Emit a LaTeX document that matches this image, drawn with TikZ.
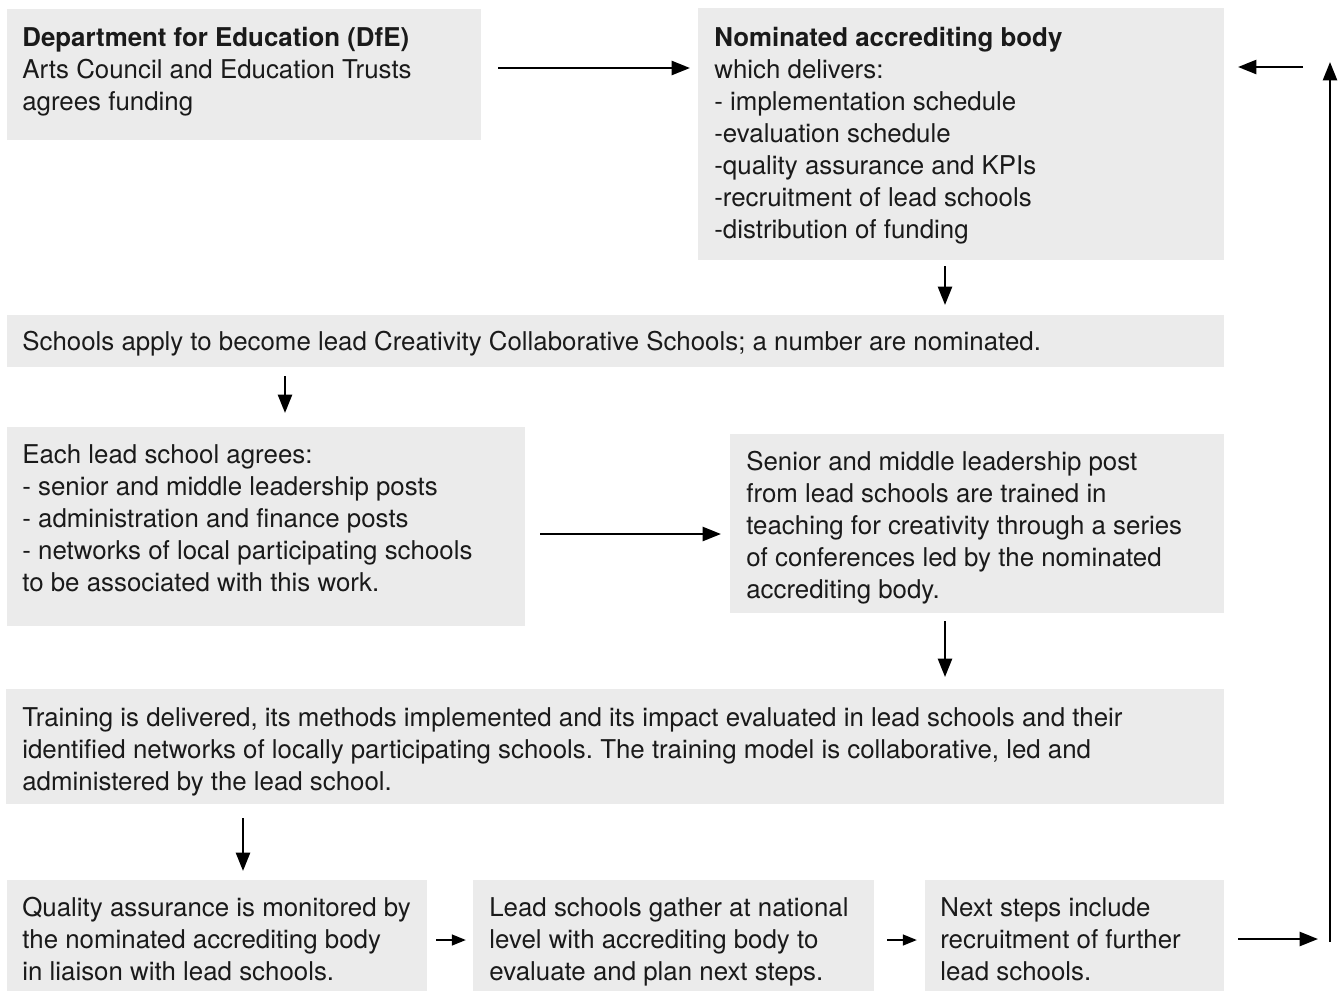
\documentclass[tikz,border=0pt]{standalone}
\usepackage{fontspec}
\setmainfont{TeX Gyre Heros}
\usetikzlibrary{fit,arrows.meta}
\definecolor{boxgray}{HTML}{EBEBEB}
\definecolor{ink}{HTML}{1A1A1A}
\frenchspacing
\begin{document}
\begin{tikzpicture}[x=0.02cm,y=-0.02cm,
  box/.style={fill=boxgray,draw=none,inner sep=0pt},
  txt/.style={anchor=north west,inner sep=0pt,align=left,text=ink,
    font=\fontsize{14.72pt}{18.22pt}\selectfont},
  arr/.style={line width=1.45pt,-{Triangle[length=10.5pt,width=8pt]}},
  sarr/.style={line width=1.4pt,-{Triangle[length=8pt,width=6pt]}}]
\useasboundingbox[fill=white] (0,0) rectangle (1341,991);
\newcommand{\fl}{\rule{0pt}{12.5pt}}
% boxes
\node[box,fit={(7,9) (481,140)}] (dfe) {};
\node[box,fit={(698,8) (1224,260)}] (nab) {};
\node[box,fit={(7,315) (1224,367)}] (apply) {};
\node[box,fit={(7,427) (525,626)}] (each) {};
\node[box,fit={(730,434) (1224,613)}] (senior) {};
\node[box,fit={(6,689) (1224,804)}] (train) {};
\node[box,fit={(7,880) (427,991)}] (qa) {};
\node[box,fit={(473,880) (874,991)}] (gather) {};
\node[box,fit={(925,880) (1224,991)}] (next) {};
% texts
\node[txt] (dfet) at (22,24) {\fl\textbf{Department for Education (DfE)}\\Arts Council and Education Trusts\\agrees funding};
\node[txt] (nabt) at (714,24) {\fl\textbf{Nominated accrediting body}\\which delivers:\\- implementation schedule\\-evaluation schedule\\-quality assurance and KPIs\\-recruitment of lead schools\\-distribution of funding};
\node[txt] (applyt) at (22,328) {\fl Schools apply to become lead Creativity Collaborative Schools; a number are nominated.};
\node[txt] (eacht) at (22,441) {\fl Each lead school agrees:\\- senior and middle leadership posts\\- administration and finance posts\\- networks of local participating schools\\to be associated with this work.};
\node[txt] (seniort) at (746,448) {\fl Senior and middle leadership post\\from lead schools are trained in\\teaching for creativity through a series\\of conferences led by the nominated\\accrediting body.};
\node[txt] (traint) at (22,704) {\fl Training is delivered, its methods implemented and its impact evaluated in lead schools and their\\identified networks of locally participating schools. The training model is collaborative, led and\\administered by the lead school.};
\node[txt] (qat) at (22,894) {\fl Quality assurance is monitored by\\the nominated accrediting body\\in liaison with lead schools.};
\node[txt] (gathert) at (489,894) {\fl Lead schools gather at national\\level with accrediting body to\\evaluate and plan next steps.};
\node[txt] (nextt) at (940,894) {\fl Next steps include\\recruitment of further\\lead schools.};
% connector end points
\coordinate (c1a) at (498,68);  \coordinate (c1b) at (690,68);
\coordinate (c2a) at (1303,67); \coordinate (c2b) at (1238,67);
\coordinate (c3a) at (1330,942); \coordinate (c3b) at (1330,62);
\coordinate (c4a) at (1238,939); \coordinate (c4b) at (1318,939);
\coordinate (c5a) at (945,266); \coordinate (c5b) at (945,305);
\coordinate (c6a) at (285,376); \coordinate (c6b) at (285,413);
\coordinate (c7a) at (540,534); \coordinate (c7b) at (721,534);
\coordinate (c8a) at (945,621); \coordinate (c8b) at (945,677);
\coordinate (c9a) at (243,818); \coordinate (c9b) at (243,871);
\coordinate (c10a) at (436,940); \coordinate (c10b) at (466,940);
\coordinate (c11a) at (887,940); \coordinate (c11b) at (917,940);
% connectors
\draw[arr] (c1a) -- (c1b);
\draw[arr] (c2a) -- (c2b);
\draw[arr] (c3a) -- (c3b);
\draw[arr] (c4a) -- (c4b);
\draw[arr] (c5a) -- (c5b);
\draw[arr] (c6a) -- (c6b);
\draw[arr] (c7a) -- (c7b);
\draw[arr] (c8a) -- (c8b);
\draw[arr] (c9a) -- (c9b);
\draw[sarr] (c10a) -- (c10b);
\draw[sarr] (c11a) -- (c11b);
\end{tikzpicture}
\end{document}
